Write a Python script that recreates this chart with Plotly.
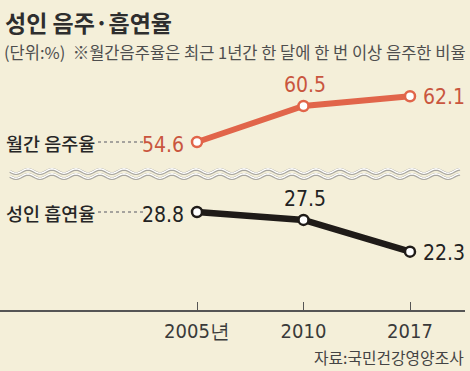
import math
import plotly.graph_objects as go

# ---- data ----
years = ["2005", "2010", "2017"]
tick_labels = ["2005년", "2010", "2017"]
drinking = [54.6, 60.5, 62.1]
smoking = [28.8, 27.5, 22.3]
series_names = ["월간 음주율", "성인 흡연율"]

title = "성인 음주·흡연율"
subtitle = "(단위:%)  ※월간음주율은 최근 1년간 한 달에 한 번 이상 음주한 비율"
source = "자료:국민건강영양조사"

W, H = 470, 371
BG = "#f4efd9"
RED = "#e1654a"
RED_TXT = "#c9563e"
BLACK = "#1f1b18"
NUM_FONT = "DejaVu Sans Condensed, Liberation Sans Narrow, Liberation Sans, sans-serif"
KR_FONT = "Noto Sans CJK KR, Noto Sans, sans-serif"


def py(p):
    """pixel-from-top -> paper y"""
    return 1 - p / H


def px(p):
    return p / W


fig = go.Figure()
idx = list(range(len(years)))

fig.add_trace(go.Scatter(
    x=idx, y=drinking, xaxis="x", yaxis="y",
    mode="lines+markers",
    line=dict(color=RED, width=6),
    marker=dict(size=10, color="white", line=dict(color=RED, width=2.5)),
    hoverinfo="skip", showlegend=False,
))
fig.add_trace(go.Scatter(
    x=idx, y=smoking, xaxis="x", yaxis="y2",
    mode="lines+markers",
    line=dict(color=BLACK, width=6.5),
    marker=dict(size=10, color="white", line=dict(color=BLACK, width=2.5)),
    hoverinfo="skip", showlegend=False,
))

annotations = []
# value labels
positions = [
    dict(xanchor="right", yanchor="middle", xshift=-11, yshift=-3),
    dict(xanchor="center", yanchor="bottom", xshift=1, yshift=7),
    dict(xanchor="left", yanchor="middle", xshift=11, yshift=-1),
]
for vals, yref, col in [(drinking, "y", RED_TXT), (smoking, "y2", "#222222")]:
    for i, v in enumerate(vals):
        p = positions[i]
        annotations.append(dict(
            x=i, y=v, xref="x", yref=yref, text=f"{v:.1f}", showarrow=False,
            font=dict(family=NUM_FONT, size=21, color=col), **p))

# series labels + dotted connectors
shapes = []
for name, vals, yref in [(series_names[0], drinking, "y"), (series_names[1], smoking, "y2")]:
    annotations.append(dict(
        x=px(4), y=vals[0], xref="paper", yref=yref, text=name, showarrow=False,
        xanchor="left", yanchor="middle", yshift=-1,
        font=dict(family=KR_FONT, size=18.5, color="#262626", weight=500)))
    shapes.append(dict(
        type="line", xref="paper", yref=yref, x0=px(98), x1=px(144),
        y0=vals[0], y1=vals[0], line=dict(color="#8a8a8a", width=1.3, dash="dot")))

# title, subtitle, source
annotations.append(dict(
    x=px(3), y=py(3), xref="paper", yref="paper", text=f"<b>{title}</b>", showarrow=False,
    xanchor="left", yanchor="top", font=dict(family=KR_FONT, size=23, color="#2e2e2e")))
annotations.append(dict(
    x=px(2), y=py(52), xref="paper", yref="paper", text=subtitle, showarrow=False,
    xanchor="left", yanchor="middle", font=dict(family=KR_FONT, size=16.5, color="#4e4e4e")))
annotations.append(dict(
    x=px(466), y=py(357), xref="paper", yref="paper", text=source, showarrow=False,
    xanchor="right", yanchor="middle", font=dict(family=KR_FONT, size=15.8, color="#444444")))


# axis-break wavy lines (decoration)
def wave(y0, amp=2.2, period=24.0, x_start=10, x_end=460):
    pts = []
    n = int((x_end - x_start) / 2)
    for k in range(n + 1):
        xx = x_start + k * (x_end - x_start) / n
        yy = y0 + amp * math.sin(2 * math.pi * (xx - x_start) / period)
        pts.append(f"{px(xx):.5f},{py(yy):.5f}")
    return "M" + " L".join(pts)


for yy in (171.5, 176.5):
    shapes.append(dict(type="path", xref="paper", yref="paper", path=wave(yy),
                       line=dict(color="#a8a6a0", width=2.8)))
    shapes.append(dict(type="path", xref="paper", yref="paper", path=wave(yy - 0.5),
                       line=dict(color="#ffffff", width=1.4)))

# axes: same scale (~6.1 px per %) on both broken segments
S = 6.1
top_px = (75, 160)
bot_px = (180, 300)
y1_range = [54.6 - (top_px[1] - 142) / S, 54.6 + (142 - top_px[0]) / S]
y2_range = [28.8 - (bot_px[1] - 212) / S, 28.8 + (212 - bot_px[0]) / S]

x_domain = [0, 0.99]
cat_px = 106.5
span = W * (x_domain[1] - x_domain[0]) / cat_px
r0 = -197 / cat_px

fig.update_layout(
    width=W, height=H,
    margin=dict(l=0, r=0, t=0, b=0),
    paper_bgcolor=BG, plot_bgcolor="rgba(0,0,0,0)",
    xaxis=dict(
        domain=x_domain, anchor="free", position=py(311),
        range=[r0, r0 + span],
        tickmode="array", tickvals=idx, ticktext=tick_labels,
        ticks="inside", ticklen=8, tickwidth=1.3, tickcolor="#555555",
        showline=True, linecolor="#555555", linewidth=1.5,
        showgrid=False, zeroline=False, ticklabelstandoff=2,
        tickfont=dict(family=NUM_FONT, size=20, color="#3a3a3a"),
    ),
    yaxis=dict(domain=[py(top_px[1]), py(top_px[0])], range=y1_range, anchor="x",
               visible=False, showgrid=False),
    yaxis2=dict(domain=[py(bot_px[1]), py(bot_px[0])], range=y2_range, anchor="x",
                visible=False, showgrid=False),
    annotations=annotations,
    shapes=shapes,
)

fig.write_html("out.html", config={"displayModeBar": False},
               post_script="document.body.style.margin='0px';document.body.style.background='%s';" % BG)
